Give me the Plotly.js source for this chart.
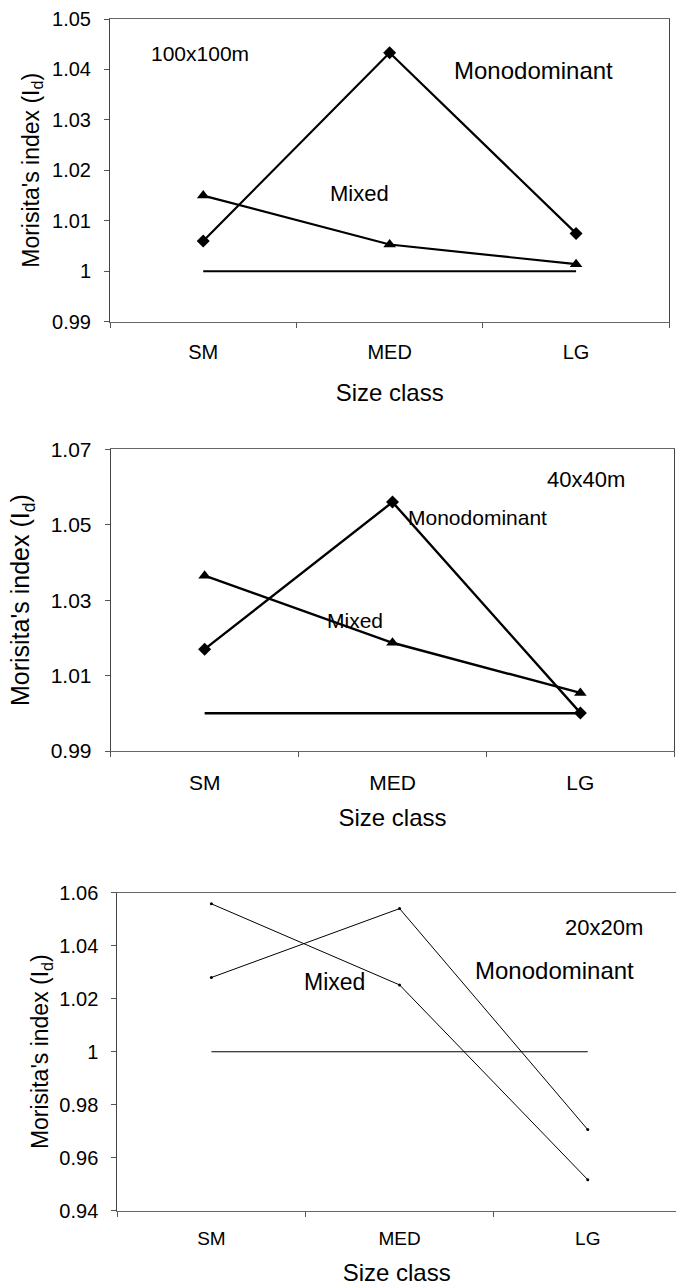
<!DOCTYPE html>
<html>
<head>
<meta charset="utf-8">
<script src="https://cdn.plot.ly/plotly-3.0.1.min.js"></script>
<style>html,body{margin:0;padding:0;background:#fff;}#chart{width:676px;height:1286px;}</style>
</head>
<body>
<div id="chart"></div>
<script>
// ---- data ----
const sizeClasses = ["SM", "MED", "LG"];

// 100x100m
const mono100 = [1.006, 1.0433, 1.0075];
const mixed100 = [1.015, 1.0053, 1.0014];
const ref100 = [1, 1, 1];

// 40x40m
const mono40 = [1.017, 1.056, 1.0001];
const mixed40 = [1.0365, 1.0187, 1.0054];
const ref40 = [1, 1, 1];

// 20x20m
const mono20 = [1.028, 1.054, 0.9706];
const mixed20 = [1.0558, 1.0252, 0.9517];
const ref20 = [1, 1, 1];

// tick labels
const yTicks1 = [0.99, 1.00, 1.01, 1.02, 1.03, 1.04, 1.05];
const yTickText1 = ["0.99", "1", "1.01", "1.02", "1.03", "1.04", "1.05"];
const yTicks2 = [0.99, 1.01, 1.03, 1.05, 1.07];
const yTickText2 = ["0.99", "1.01", "1.03", "1.05", "1.07"];
const yTicks3 = [0.94, 0.96, 0.98, 1.00, 1.02, 1.04, 1.06];
const yTickText3 = ["0.94", "0.96", "0.98", "1", "1.02", "1.04", "1.06"];

const panelLabels = ["100x100m", "40x40m", "20x20m"];
const seriesLabels = ["Monodominant", "Mixed"];
const xTitle = "Size class";
const yTitle = "Morisita's index (I<sub>d</sub>)";

// ---- layout helpers ----
const W = 676, H = 1286;
const px = x => x / W;
const py = y => 1 - y / H;
const FONT = "Liberation Sans, Arial, sans-serif";

function line(xa, ya, y, sym, width, msize) {
  const t = {
    x: sizeClasses, y: y, xaxis: xa, yaxis: ya, type: "scatter",
    mode: sym ? "lines+markers" : "lines",
    line: {color: "#000", width: width},
    showlegend: false, hoverinfo: "skip"
  };
  if (sym) t.marker = {symbol: sym, size: msize, color: "#000"};
  return t;
}

const data = [
  line("x", "y", ref100, null, 2.2),
  line("x", "y", mono100, "diamond", 2.2, 10),
  line("x", "y", mixed100, "triangle-up", 2.2, 11),
  line("x2", "y2", ref40, null, 2.4),
  line("x2", "y2", mono40, "diamond", 2.4, 10),
  line("x2", "y2", mixed40, "triangle-up", 2.4, 11),
  line("x3", "y3", ref20, null, 1.1),
  line("x3", "y3", mono20, "circle", 1, 3),
  line("x3", "y3", mixed20, "circle", 1, 3)
];

function xAxis(anchor, domain, range, tickSize, titleSize, labelOff, titleOff) {
  return {
    anchor: anchor, domain: domain, type: "category", categoryarray: sizeClasses,
    range: range, tickson: "boundaries", ticks: "outside", ticklen: 5, tickcolor: "#555",
    showline: true, linecolor: "#666", linewidth: 1, mirror: true,
    showgrid: false, zeroline: false, fixedrange: true, automargin: false,
    tickfont: {family: FONT, size: tickSize, color: "#000"},
    ticklabelstandoff: labelOff,
    title: {text: xTitle, font: {family: FONT, size: titleSize, color: "#000"}, standoff: titleOff}
  };
}
function yAxis(anchor, domain, range, tv, tt, tickSize, titleSize, titleOff, mirror) {
  return {
    anchor: anchor, domain: domain, range: range, tickmode: "array",
    tickvals: tv, ticktext: tt, ticks: "outside", ticklen: 5, tickcolor: "#555",
    showline: true, linecolor: "#444", linewidth: 1, mirror: mirror,
    showgrid: false, zeroline: false, fixedrange: true, automargin: false,
    tickfont: {family: FONT, size: tickSize, color: "#000"},
    ticklabelstandoff: 9,
    title: {text: yTitle, font: {family: FONT, size: titleSize, color: "#000"}, standoff: titleOff}
  };
}

function ann(text, x, y, size) {
  return {text: text, x: px(x), y: py(y), xref: "paper", yref: "paper",
          xanchor: "center", yanchor: "middle", showarrow: false,
          font: {family: FONT, size: size, color: "#000"}};
}

const layout = {
  width: W, height: H,
  margin: {l: 0, r: 0, t: 0, b: 0},
  paper_bgcolor: "#fff", plot_bgcolor: "#fff",
  showlegend: false,
  xaxis: xAxis("y", [px(110), px(669.3)], [-0.5, 2.5], 20, 24, 12, 22),
  yaxis: yAxis("x", [py(321.7), py(19)], [0.99, 1.05], yTicks1, yTickText1, 20, 23, 6, true),
  xaxis2: xAxis("y2", [px(110.7), px(674.3)], [-0.5, 2.5], 21, 24, 13, 15),
  yaxis2: yAxis("x2", [py(751), py(449.3)], [0.99, 1.07], yTicks2, yTickText2, 21, 25, 13, true),
  xaxis3: xAxis("y3", [px(117.3), 1], [-0.5, 2.469], 19, 24, 10, 16),
  yaxis3: yAxis("x3", [py(1210.7), py(892.7)], [0.94, 1.06], yTicks3, yTickText3, 20, 23, 4, false),
  annotations: [
    ann(panelLabels[0], 200, 54, 21),
    ann(seriesLabels[0], 533, 70, 24),
    ann(seriesLabels[1], 359, 193, 22),
    ann(panelLabels[1], 586, 480, 22),
    ann(seriesLabels[0], 478, 517, 21),
    ann(seriesLabels[1], 355, 620, 21),
    ann(panelLabels[2], 604, 927, 22),
    ann(seriesLabels[0], 554, 970, 24),
    ann(seriesLabels[1], 334, 982, 23)
  ]
};

Plotly.newPlot("chart", data, layout, {staticPlot: true, displayModeBar: false});
</script>
</body>
</html>
